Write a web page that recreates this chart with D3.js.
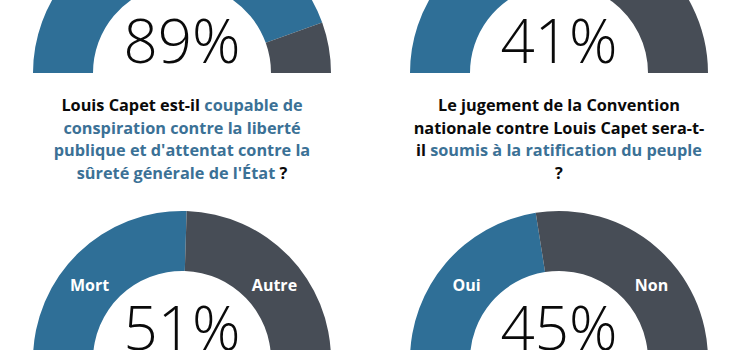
<!DOCTYPE html>
<html><head><meta charset="utf-8">
<script src="https://cdn.jsdelivr.net/npm/d3@7"></script>
<style>
html,body{margin:0;padding:0;background:#fff;}
svg{display:block;}
</style></head>
<body>
<svg id="c" width="740" height="350"></svg>
<script>
// ---- data ----
const values = [89, 41, 51, 45];          // share of the first (blue) answer, %
const firstLabels = ["Oui", "Oui", "Mort", "Oui"];
const secondLabels = ["Non", "Non", "Autre", "Non"];
const showLabels = [false, false, true, true];
// question lines: [text, highlighted]
const question1 = [
  [["Louis Capet est-il ", false], ["coupable de", true]],
  [["conspiration contre la liberté", true]],
  [["publique et d'attentat contre la", true]],
  [["sûreté générale de l'État", true], [" ?", false]]
];
const question2 = [
  [["Le jugement de la Convention", false]],
  [["nationale contre Louis Capet sera-t-", false]],
  [["il ", false], ["soumis à la ratification du peuple", true]],
  [["?", false]]
];

// ---- drawing ----
const svg = d3.select("#c");
const blue = "#2f6f97", grey = "#474d56", textBlue = "#3b7196", black = "#0a0a0a";
const centers = [[182, 73], [559, 73], [182, 360], [559, 360]];
const rInner = 89, rOuter = 149;

const angle = d3.scaleLinear().domain([0, 100]).range([-Math.PI / 2, Math.PI / 2]);
const arc = d3.arc().innerRadius(rInner).outerRadius(rOuter);

values.forEach((v, i) => {
  const g = svg.append("g").attr("transform", `translate(${centers[i][0]},${centers[i][1]})`);
  const slices = [
    {start: 0, end: v, color: blue, label: firstLabels[i], side: -1},
    {start: v, end: 100, color: grey, label: secondLabels[i], side: 1}
  ];
  g.selectAll("path").data(slices).join("path")
    .attr("d", d => arc({startAngle: angle(d.start), endAngle: angle(d.end)}))
    .attr("fill", d => d.color);
  if (showLabels[i]) {
    const a = 39 * Math.PI / 180, rm = (rInner + rOuter) / 2;
    g.selectAll("text.lab").data(slices).join("text").attr("class", "lab")
      .attr("x", d => d.side * rm * Math.cos(a))
      .attr("y", -rm * Math.sin(a))
      .attr("dy", "0.35em")
      .attr("text-anchor", "middle")
      .attr("font-family", "'Open Sans', sans-serif")
      .attr("font-weight", 700)
      .attr("font-size", 16)
      .attr("fill", "#fff")
      .text(d => d.label);
  }
  g.append("text")
    .attr("x", 0).attr("y", -10)
    .attr("text-anchor", "middle")
    .attr("font-family", "'Open Sans', sans-serif")
    .attr("font-weight", 300)
    .attr("font-size", 60)
    .attr("fill", black)
    .text(v + "%");
});

[[question1, 182], [question2, 559]].forEach(([q, cx]) => {
  const t = svg.append("text")
    .attr("text-anchor", "middle")
    .attr("font-family", "'Open Sans', sans-serif")
    .attr("font-weight", 700)
    .attr("font-size", 16.3);
  q.forEach((line, li) => {
    line.forEach((seg, si) => {
      const ts = t.append("tspan").text(seg[0]).attr("fill", seg[1] ? textBlue : black);
      if (si === 0) ts.attr("x", cx).attr("y", 111 + li * 22.6);
    });
  });
});
</script>
</body></html>
